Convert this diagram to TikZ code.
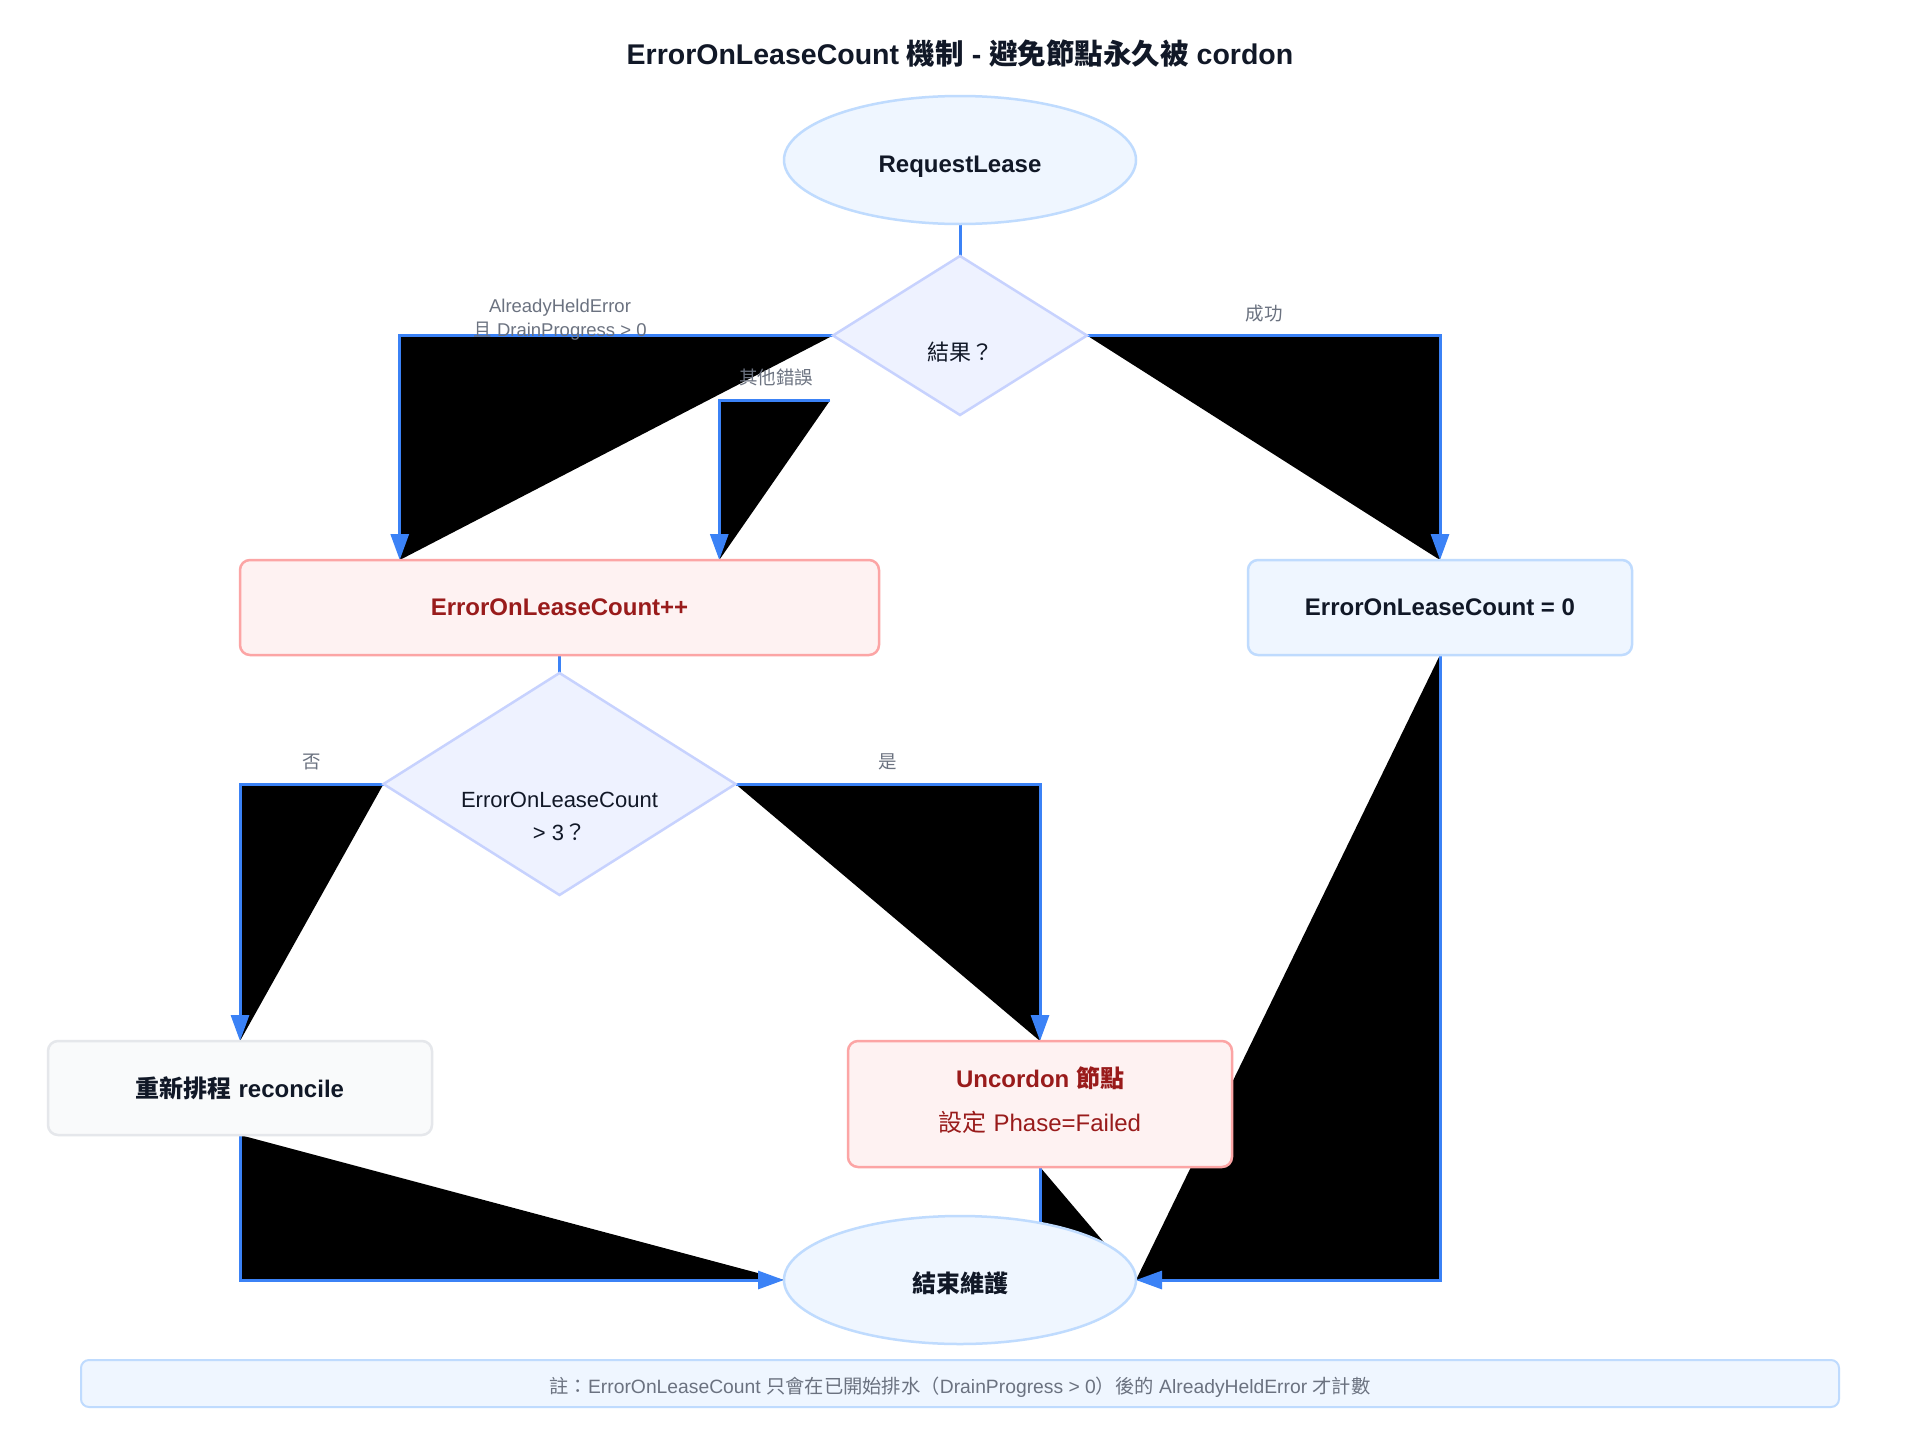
\documentclass[tikz,border=0pt]{standalone}
\usepackage{fontspec}
\setmainfont{Liberation Sans}
\newfontfamily\cjk{Noto Sans CJK TC}
\newcommand{\zh}[1]{{\cjk #1}}
\usetikzlibrary{arrows.meta,positioning,calc,shapes.geometric,backgrounds}

\definecolor{ink}{HTML}{111827}
\definecolor{termfill}{HTML}{EFF6FF}
\definecolor{termline}{HTML}{BFDBFE}
\definecolor{decfill}{HTML}{EEF2FF}
\definecolor{decline}{HTML}{C7D2FE}
\definecolor{errfill}{HTML}{FEF2F2}
\definecolor{errline}{HTML}{FCA5A5}
\definecolor{errtext}{HTML}{991B1B}
\definecolor{greyfill}{HTML}{F9FAFB}
\definecolor{greyline}{HTML}{E5E7EB}
\definecolor{linkblue}{HTML}{3B82F6}
\definecolor{labelgrey}{HTML}{6B7280}

\begin{document}
\begin{tikzpicture}[x=1pt, y=-1pt,
    every node/.style={inner sep=0pt, outer sep=0pt},
    startstop/.style={ellipse, draw=termline, fill=termfill, line width=2.5pt,
      minimum width=352pt, minimum height=128pt, text=ink,
      text height=25pt, text depth=0pt,
      font=\fontsize{24}{30}\selectfont\bfseries},
    decision/.style={diamond, aspect=1.6, inner xsep=-40pt, inner ysep=-45pt,
      draw=decline, fill=decfill, line width=2.5pt,
      text=ink, align=center, text depth=0pt, font=\fontsize{22}{33}\selectfont},
    box/.style={rectangle, rounded corners=10pt, line width=2.5pt, align=center,
      font=\fontsize{24}{30}\selectfont\bfseries},
    errbox/.style={box, draw=errline, fill=errfill, text=errtext},
    okbox/.style={box, draw=termline, fill=termfill, text=ink},
    plainbox/.style={box, draw=greyline, fill=greyfill, text=ink},
    notebox/.style={rectangle, rounded corners=8pt, draw=termline, fill=termfill,
      line width=2pt, text=labelgrey, text height=20pt, text depth=0pt,
      font=\fontsize{19.3}{24}\selectfont},
    edgelabel/.style={text=labelgrey, align=center, font=\fontsize{18.5}{24}\selectfont},
    link/.style={draw=linkblue, line width=3pt},
    flow/.style={link, preaction={fill=black, draw=none, arrows=-},
      -{Triangle[length=26pt, width=18pt, fill=linkblue]}}
  ]
    \useasboundingbox (0,0) rectangle (1920,1440);

    % Title
    \node[text=ink, font=\fontsize{28.5}{34}\selectfont\bfseries] (title) at (960,54)
      {ErrorOnLeaseCount \zh{機制} - \zh{避免節點永久被} cordon};

    % Nodes
    \node[startstop] (req) at (960,160) {RequestLease};
    \node[decision, minimum width=254pt, minimum height=159pt,
      text height=49pt] (res) at (960,335.5) {\zh{結果？}};
    \node[errbox, minimum width=639pt, minimum height=95pt] (inc) at (559.5,607.5) {ErrorOnLeaseCount++};
    \node[okbox, minimum width=384pt, minimum height=95pt] (reset) at (1440,607.5) {ErrorOnLeaseCount = 0};
    \node[decision, minimum width=352pt, minimum height=222pt,
      text height=113.6pt] (check) at (559.5,784)
      {ErrorOnLeaseCount\\> 3\zh{？}};
    \node[plainbox, minimum width=384pt, minimum height=94pt] (retry) at (240,1088)
      {\zh{重新排程} reconcile};
    \node[errbox, minimum width=384pt, minimum height=126pt,
      text height=55.8pt, text depth=0pt] (uncord) at (1040,1104)
      {Uncordon \zh{節點}\\[14pt]{\mdseries\zh{設定} Phase=Failed}};
    \node[startstop] (done) at (960,1280) {\zh{結束維護}};

    % Note
    \node[notebox, minimum width=1758pt, minimum height=47pt] (note) at (960,1383.5)
      {\zh{註：}ErrorOnLeaseCount \zh{只會在已開始排水（}DrainProgress > 0\zh{）後的} AlreadyHeldError \zh{才計數}};

    % Edge labels
    \node[edgelabel] (lheld) at (560,320) {AlreadyHeldError\\\zh{且} DrainProgress > 0};
    \node[edgelabel] (lother) at (776,377) {\zh{其他錯誤}};
    \node[edgelabel] (lok) at (1264,313.5) {\zh{成功}};
    \node[edgelabel] (lno) at (312,761.5) {\zh{否}};
    \node[edgelabel] (lyes) at (888,761.5) {\zh{是}};

    % Connector ends
    \coordinate (incA) at ($(inc.north west)!0.25!(inc.north east)$);
    \coordinate (incB) at ($(inc.north west)!0.75!(inc.north east)$);
    \coordinate (otherout) at ([shift={(-3pt,-65pt)}]res.west);

    % Connectors
    \begin{scope}[on background layer]
      \fill[white] (0,0) rectangle (1920,1440);
      \draw[link] (req.south) -- (res.north);
      \draw[flow] (res.west) -| (incA);
      \draw[flow] (otherout) -| (incB);
      \draw[flow] (res.east) -| (reset.north);
      \draw[link] (inc.south) -- (check.north);
      \draw[flow] (check.west) -| (retry.north);
      \draw[flow] (check.east) -| (uncord.north);
      \draw[flow] (retry.south) |- (done.west);
      \draw[flow] (uncord.south) |- (done.east);
      \draw[flow] (reset.south) |- (done.east);
    \end{scope}
\end{tikzpicture}
\end{document}
